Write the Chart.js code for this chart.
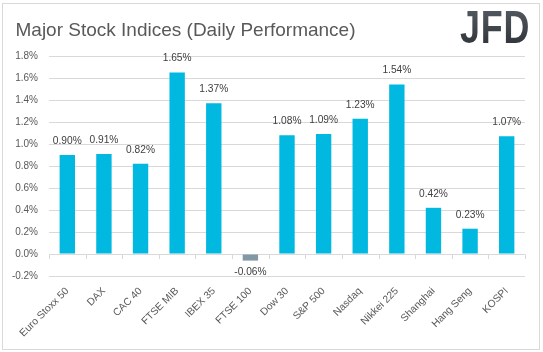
<!DOCTYPE html>
<html>
<head>
<meta charset="utf-8">
<script src="https://cdn.jsdelivr.net/npm/chart.js@4.4.1/dist/chart.umd.min.js"></script>
<style>
  html, body { margin: 0; padding: 0; background: #ffffff; }
  #wrap { position: relative; width: 543px; height: 352px; overflow: hidden; }
  #frame { position: absolute; box-sizing: border-box; left: 2px; top: 3px; width: 538px; height: 347px; border: 1px solid #d9d9d9; pointer-events: none; }
  #logo { position: absolute; left: 460px; top: 1px; font-family: "Liberation Sans", Arial, sans-serif; font-weight: bold; font-size: 46px; line-height: 52px; letter-spacing: 1px; transform: scaleX(0.78); transform-origin: left top; background: linear-gradient(#5a6068, #2a2e33); -webkit-background-clip: text; background-clip: text; -webkit-text-fill-color: transparent; color: #3a3f45; }
  canvas { position: absolute; left: 0; top: 0; }
</style>
</head>
<body>
<div id="wrap">
  <canvas id="c" width="543" height="352"></canvas>
  <div id="frame"></div>
  <div id="logo">JFD</div>
</div>
<script>
const categories = ["Euro Stoxx 50", "DAX", "CAC 40", "FTSE MIB", "IBEX 35", "FTSE 100", "Dow 30", "S&P 500", "Nasdaq", "Nikkei 225", "Shanghai", "Hang Seng", "KOSPI"];
const performance = [0.90, 0.91, 0.82, 1.65, 1.37, -0.06, 1.08, 1.09, 1.23, 1.54, 0.42, 0.23, 1.07];
const titleText = "Major Stock Indices (Daily Performance)";
const yMin = -0.2, yMax = 1.8, yStep = 0.2;

const POS = "#00b8e0", NEG = "#8398a5";

const titlePlugin = {
  id: "leftTitle",
  afterDraw(chart) {
    const ctx = chart.ctx;
    ctx.save();
    ctx.font = "19px 'Liberation Sans', Arial, sans-serif";
    ctx.fillStyle = "#595959";
    ctx.textAlign = "left";
    ctx.textBaseline = "alphabetic";
    ctx.fillText(titleText, 15.5, 35.5);
    ctx.restore();
  }
};

const labelPlugin = {
  id: "valueLabels",
  afterDatasetsDraw(chart) {
    const ctx = chart.ctx;
    const meta = chart.getDatasetMeta(0);
    const xs = chart.scales.x, ys = chart.scales.y;
    const y0 = ys.getPixelForValue(0);
    const half = (xs.getPixelForValue(1) - xs.getPixelForValue(0)) / 2;
    ctx.save();
    ctx.strokeStyle = "#d9d9d9";
    ctx.lineWidth = 1;
    ctx.beginPath();
    for (let i = 0; i <= categories.length; i++) {
      const x = Math.round(xs.getPixelForValue(0) - half + i * 2 * half) + 0.5;
      ctx.moveTo(x, Math.round(y0) + 0.5);
      ctx.lineTo(x, Math.round(y0) + 5);
    }
    ctx.stroke();
    ctx.font = "10.2px 'Liberation Sans', Arial, sans-serif";
    ctx.fillStyle = "#404040";
    ctx.textAlign = "center";
    ctx.textBaseline = "middle";
    meta.data.forEach((bar, i) => {
      const v = performance[i];
      const txt = v.toFixed(2) + "%";
      if (v >= 0) ctx.fillText(txt, bar.x, bar.y - 14);
      else ctx.fillText(txt, bar.x, bar.y + 12);
    });
    ctx.restore();
  }
};

new Chart(document.getElementById("c"), {
  type: "bar",
  data: {
    labels: categories,
    datasets: [{
      data: performance,
      backgroundColor: performance.map(v => v < 0 ? NEG : POS),
      borderWidth: 0,
      barPercentage: 0.42,
      categoryPercentage: 1.0
    }]
  },
  options: {
    responsive: false,
    animation: false,
    devicePixelRatio: 1,
    layout: { padding: { left: 5, right: 18, top: 56, bottom: 0 } },
    plugins: {
      legend: { display: false },
      tooltip: { enabled: false },
      title: { display: false }
    },
    scales: {
      y: {
        min: yMin, max: yMax,
        ticks: {
          stepSize: yStep,
          color: "#595959",
          font: { family: "'Liberation Sans', Arial, sans-serif", size: 10 },
          padding: 11,
          callback: v => (Math.round(v * 10) / 10).toFixed(1) + "%"
        },
        grid: { color: "#d9d9d9", drawTicks: false, lineWidth: 1 },
        border: { display: false },
        afterFit(s) { s.width = 44; }
      },
      x: {
        ticks: {
          color: "#595959",
          font: { family: "'Liberation Sans', Arial, sans-serif", size: 10.3 },
          minRotation: 45, maxRotation: 45,
          padding: 9,
          autoSkip: false
        },
        grid: { display: false, drawTicks: false },
        border: { display: false },
        afterFit(s) { s.height = 76; }
      }
    }
  },
  plugins: [labelPlugin, titlePlugin]
});
</script>
</body>
</html>
